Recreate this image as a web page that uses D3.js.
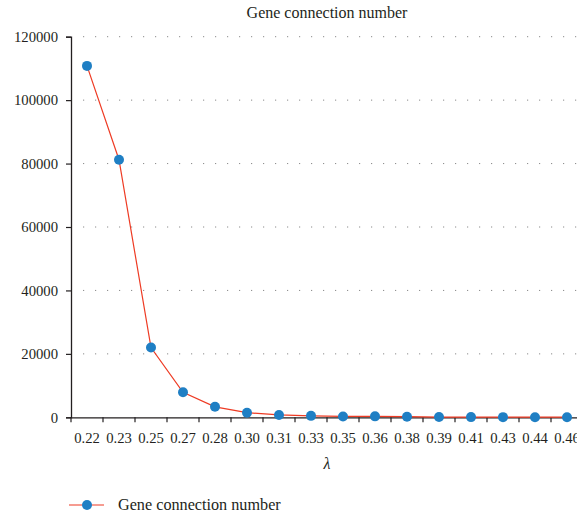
<!DOCTYPE html>
<html><head><meta charset="utf-8">
<script src="https://cdn.jsdelivr.net/npm/d3@7"></script>
<style>body{margin:0;background:#fff}svg{display:block}text{font-family:"Liberation Serif","Times New Roman",serif;fill:#231f20}</style>
</head><body><svg id="c" width="577" height="517"></svg>
<script>
const categories = ["0.22","0.23","0.25","0.27","0.28","0.30","0.31","0.33","0.35","0.36","0.38","0.39","0.41","0.43","0.44","0.46"];
const values = [110800, 81200, 22000, 7900, 3300, 1450, 750, 450, 280, 300, 200, 80, 60, 50, 40, 30];
const yTicks = [0, 20000, 40000, 60000, 80000, 100000, 120000];
const seriesName = "Gene connection number";
const title = "Gene connection number";
const xLabel = "λ";

const FONT = '"Liberation Serif", "Times New Roman", serif';
const svg = d3.select("#c");
const mLeft = 71, mRight = 583, mTop = 36.7, mBottom = 417.3;
const x = d3.scaleBand().domain(categories).range([mLeft, mRight]);
const y = d3.scaleLinear().domain([0, 120000]).range([mBottom, mTop]);

// grid
svg.append("g").selectAll("line").data(yTicks.filter(d => d > 0)).join("line")
  .attr("x1", mLeft + 12).attr("x2", 577).attr("y1", d => y(d)).attr("y2", d => y(d))
  .attr("stroke", "#8a8a8a").attr("stroke-width", 1).attr("stroke-dasharray", "1.2,10.8");

// y axis
const ya = svg.append("g").attr("transform", `translate(${mLeft},0)`)
  .call(d3.axisLeft(y).tickValues(yTicks).tickSize(5).tickPadding(8).tickFormat(d3.format("d")));
ya.attr("font-family", null).attr("font-size", null);
ya.select(".domain").attr("stroke", "#231f20").attr("stroke-width", 1.3);
ya.selectAll(".tick line").attr("stroke", "#231f20").attr("stroke-width", 1.2);
ya.selectAll("text").style("font-family", FONT).style("font-size", "14.7px").attr("fill", "#231f20").attr("dy", "0.33em");

// x axis
const xa = svg.append("g").attr("transform", `translate(0,${mBottom})`)
  .call(d3.axisBottom(x).tickSize(0));
xa.attr("font-family", null).attr("font-size", null);
xa.select(".domain").attr("stroke", "#231f20").attr("stroke-width", 1.3);
xa.selectAll("text").style("font-family", FONT).style("font-size", "14.7px").attr("fill", "#231f20").attr("y", 25.5).attr("dy", 0);
// boundary ticks
svg.append("g").selectAll("line").data(categories).join("line")
  .attr("x1", d => x(d)).attr("x2", d => x(d)).attr("y1", mBottom).attr("y2", mBottom + 5)
  .attr("stroke", "#231f20").attr("stroke-width", 1.2);

// line
const cx = d => x(d) + x.bandwidth() / 2;
svg.append("path").datum(categories.map((c, i) => [c, values[i]]))
  .attr("fill", "none").attr("stroke", "#ee3b24").attr("stroke-width", 1.2)
  .attr("d", d3.line().x(d => cx(d[0])).y(d => y(d[1])));
svg.append("g").selectAll("circle").data(categories.map((c, i) => [c, values[i]])).join("circle")
  .attr("cx", d => cx(d[0])).attr("cy", d => y(d[1])).attr("r", 5).attr("fill", "#1f7fc4");

// title
svg.append("text").attr("x", 327).attr("y", 18).attr("text-anchor", "middle").style("font-family", FONT).style("font-size", "16px").text(title);
// x label
svg.append("text").attr("x", 327).attr("y", 469).attr("text-anchor", "middle").style("font-family", FONT).style("font-size", "16px").style("font-style", "italic").text(xLabel);

// legend
svg.append("line").attr("x1", 69).attr("x2", 104).attr("y1", 505).attr("y2", 505).attr("stroke", "#ee3b24").attr("stroke-width", 1.2);
svg.append("circle").attr("cx", 87).attr("cy", 505).attr("r", 5).attr("fill", "#1f7fc4");
svg.append("text").attr("x", 118).attr("y", 509.5).style("font-family", FONT).style("font-size", "16.2px").text(seriesName);
</script></body></html>
